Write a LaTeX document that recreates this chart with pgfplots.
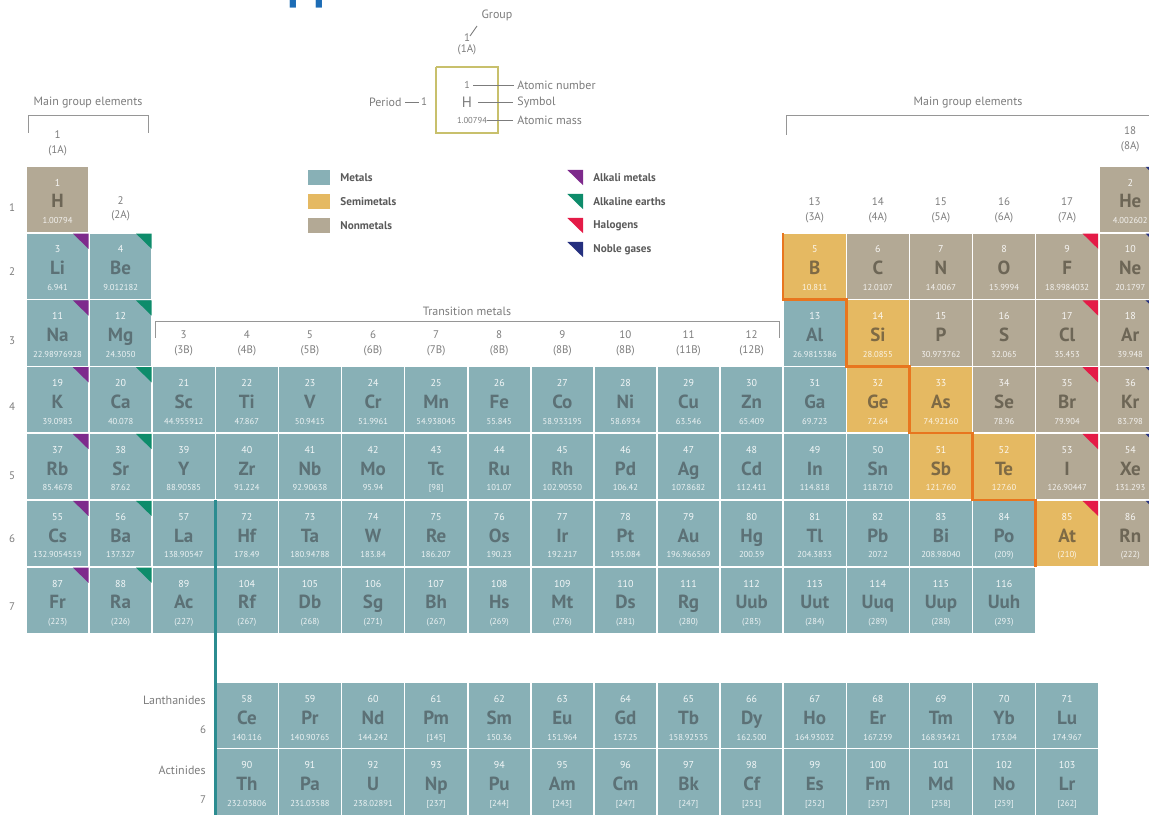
\documentclass[border=0pt]{standalone}
\usepackage{pgfplots}
\usepackage{pgfplotstable}
\pgfplotsset{compat=1.18}
\usepackage{fontspec}
\setmainfont{PT Sans}

\definecolor{metal}{HTML}{88B0B6}
\definecolor{semi}{HTML}{E5B962}
\definecolor{nonm}{HTML}{B3A995}
\definecolor{symm}{HTML}{5C7176}
\definecolor{syms}{HTML}{7E6A45}
\definecolor{symn}{HTML}{6D6656}
\definecolor{alk}{HTML}{7E2A8C}
\definecolor{aea}{HTML}{0E8C6B}
\definecolor{hal}{HTML}{E41B47}
\definecolor{nob}{HTML}{25307F}
\definecolor{bord}{HTML}{E8761F}
\definecolor{tealln}{HTML}{2B8C90}
\definecolor{labg}{HTML}{7C7C7C}
\definecolor{legt}{HTML}{5A5A5A}
\definecolor{keyb}{HTML}{C8C06C}
\definecolor{titleblue}{HTML}{1C6CB5}

% 1 px of the reference = 0.5pt; cell 63.1 x 66.8 px
\pgfdeclareplotmark{cell}{\pgfpathrectangle{\pgfqpoint{-15.775pt}{-16.7pt}}{\pgfqpoint{31.55pt}{33.4pt}}\pgfusepathqfillstroke}
\pgfdeclareplotmark{corner}{\pgfpathmoveto{\pgfqpoint{0pt}{0pt}}\pgfpathlineto{\pgfqpoint{-7.8pt}{0pt}}\pgfpathlineto{\pgfqpoint{0pt}{-7.6pt}}\pgfpathclose\pgfusepathqfill}
\pgfdeclareplotmark{key}{\pgfpathrectangle{\pgfqpoint{-5.5pt}{-3.75pt}}{\pgfqpoint{11pt}{7.5pt}}\pgfusepathqfill}

% Z symbol mass column row kind (m metal, s semimetal, n nonmetal) kn = 1/2/3
\pgfplotstableread{
Z S M c r k kn
1 H 1.00794 1 1 n 3
2 He 4.002602 18 1 n 3
3 Li 6.941 1 2 m 1
4 Be 9.012182 2 2 m 1
5 B 10.811 13 2 s 2
6 C 12.0107 14 2 n 3
7 N 14.0067 15 2 n 3
8 O 15.9994 16 2 n 3
9 F 18.9984032 17 2 n 3
10 Ne 20.1797 18 2 n 3
11 Na 22.98976928 1 3 m 1
12 Mg 24.3050 2 3 m 1
13 Al 26.9815386 13 3 m 1
14 Si 28.0855 14 3 s 2
15 P 30.973762 15 3 n 3
16 S 32.065 16 3 n 3
17 Cl 35.453 17 3 n 3
18 Ar 39.948 18 3 n 3
19 K 39.0983 1 4 m 1
20 Ca 40.078 2 4 m 1
21 Sc 44.955912 3 4 m 1
22 Ti 47.867 4 4 m 1
23 V 50.9415 5 4 m 1
24 Cr 51.9961 6 4 m 1
25 Mn 54.938045 7 4 m 1
26 Fe 55.845 8 4 m 1
27 Co 58.933195 9 4 m 1
28 Ni 58.6934 10 4 m 1
29 Cu 63.546 11 4 m 1
30 Zn 65.409 12 4 m 1
31 Ga 69.723 13 4 m 1
32 Ge 72.64 14 4 s 2
33 As 74.92160 15 4 s 2
34 Se 78.96 16 4 n 3
35 Br 79.904 17 4 n 3
36 Kr 83.798 18 4 n 3
37 Rb 85.4678 1 5 m 1
38 Sr 87.62 2 5 m 1
39 Y 88.90585 3 5 m 1
40 Zr 91.224 4 5 m 1
41 Nb 92.90638 5 5 m 1
42 Mo 95.94 6 5 m 1
43 Tc {[98]} 7 5 m 1
44 Ru 101.07 8 5 m 1
45 Rh 102.90550 9 5 m 1
46 Pd 106.42 10 5 m 1
47 Ag 107.8682 11 5 m 1
48 Cd 112.411 12 5 m 1
49 In 114.818 13 5 m 1
50 Sn 118.710 14 5 m 1
51 Sb 121.760 15 5 s 2
52 Te 127.60 16 5 s 2
53 I 126.90447 17 5 n 3
54 Xe 131.293 18 5 n 3
55 Cs 132.9054519 1 6 m 1
56 Ba 137.327 2 6 m 1
57 La 138.90547 3 6 m 1
72 Hf 178.49 4 6 m 1
73 Ta 180.94788 5 6 m 1
74 W 183.84 6 6 m 1
75 Re 186.207 7 6 m 1
76 Os 190.23 8 6 m 1
77 Ir 192.217 9 6 m 1
78 Pt 195.084 10 6 m 1
79 Au 196.966569 11 6 m 1
80 Hg 200.59 12 6 m 1
81 Tl 204.3833 13 6 m 1
82 Pb 207.2 14 6 m 1
83 Bi 208.98040 15 6 m 1
84 Po (209) 16 6 m 1
85 At (210) 17 6 s 2
86 Rn (222) 18 6 n 3
87 Fr (223) 1 7 m 1
88 Ra (226) 2 7 m 1
89 Ac (227) 3 7 m 1
104 Rf (267) 4 7 m 1
105 Db (268) 5 7 m 1
106 Sg (271) 6 7 m 1
107 Bh (267) 7 7 m 1
108 Hs (269) 8 7 m 1
109 Mt (276) 9 7 m 1
110 Ds (281) 10 7 m 1
111 Rg (280) 11 7 m 1
112 Uub (285) 12 7 m 1
113 Uut (284) 13 7 m 1
114 Uuq (289) 14 7 m 1
115 Uup (288) 15 7 m 1
116 Uuh (293) 16 7 m 1
58 Ce 140.116 4 8.733 m 1
59 Pr 140.90765 5 8.733 m 1
60 Nd 144.242 6 8.733 m 1
61 Pm {[145]} 7 8.733 m 1
62 Sm 150.36 8 8.733 m 1
63 Eu 151.964 9 8.733 m 1
64 Gd 157.25 10 8.733 m 1
65 Tb 158.92535 11 8.733 m 1
66 Dy 162.500 12 8.733 m 1
67 Ho 164.93032 13 8.733 m 1
68 Er 167.259 14 8.733 m 1
69 Tm 168.93421 15 8.733 m 1
70 Yb 173.04 16 8.733 m 1
71 Lu 174.967 17 8.733 m 1
90 Th 232.03806 4 9.722 m 1
91 Pa 231.03588 5 9.722 m 1
92 U 238.02891 6 9.722 m 1
93 Np {[237]} 7 9.722 m 1
94 Pu {[244]} 8 9.722 m 1
95 Am {[243]} 9 9.722 m 1
96 Cm {[247]} 10 9.722 m 1
97 Bk {[247]} 11 9.722 m 1
98 Cf {[251]} 12 9.722 m 1
99 Es {[252]} 13 9.722 m 1
100 Fm {[257]} 14 9.722 m 1
101 Md {[258]} 15 9.722 m 1
102 No {[259]} 16 9.722 m 1
103 Lr {[262]} 17 9.722 m 1
}\ptable

% group and period labels, pixel positions
\pgfplotstableread{
x y t
57.6 135 1
57.6 151 (1A)
120.6 201 2
120.6 216 (2A)
183.7 335 3
183.7 351 (3B)
246.8 335 4
246.8 351 (4B)
309.9 335 5
309.9 351 (5B)
373.0 335 6
373.0 351 (6B)
436.1 335 7
436.1 351 (7B)
499.2 335 8
499.2 351 (8B)
562.3 335 9
562.3 351 (8B)
625.4 335 10
625.4 351 (8B)
688.5 335 11
688.5 351 (11B)
751.6 335 12
751.6 351 (12B)
814.7 202 13
814.7 218 (3A)
877.8 202 14
877.8 218 (4A)
940.9 202 15
940.9 218 (5A)
1004.0 202 16
1004.0 218 (6A)
1067.1 202 17
1067.1 218 (7A)
1130.2 131 18
1130.2 147 (8A)
12 208 1
12 272 2
12 341 3
12 407 4
12 476 5
12 539 6
12 607 7
203 730 6
203 800 7
}\glab

\pgfplotsset{
  table/cellpos/.style={x expr=26+(\thisrow{c}-0.5)*63.1, y expr=166+(\thisrow{r}-0.5)*66.8},
  symtext/.style={only marks, mark=none, point meta=explicit symbolic, nodes near coords,
    nodes near coords style={anchor=base, yshift=-4.3pt, inner sep=0pt,
      font=\fontsize{9.5}{10}\selectfont\bfseries, text=#1}},
}

\begin{document}
\begin{tikzpicture}
\begin{axis}[
  width=574.5pt, height=407pt, scale only axis,
  xmin=0, xmax=1149, ymin=0, ymax=814, y dir=reverse,
  hide axis, clip=false, set layers,
]
% cells
\addplot[scatter, only marks, scatter src=explicit symbolic,
  scatter/classes={
    m={mark=cell, fill=metal, draw=white, line width=0.8pt},
    s={mark=cell, fill=semi, draw=white, line width=0.8pt},
    n={mark=cell, fill=nonm, draw=white, line width=0.8pt}}]
  table[cellpos, meta=k]{\ptable};

% corner triangles
\addplot[only marks, mark=corner, color=alk]
  table[x expr=26+\thisrow{c}*63.1-0.6, y expr=166+(\thisrow{r}-1)*66.8+0.8, row sep=\\]
  {c r\\1 2\\1 3\\1 4\\1 5\\1 6\\1 7\\};
\addplot[only marks, mark=corner, color=aea]
  table[x expr=26+\thisrow{c}*63.1-0.6, y expr=166+(\thisrow{r}-1)*66.8+0.8, row sep=\\]
  {c r\\2 2\\2 3\\2 4\\2 5\\2 6\\2 7\\};
\addplot[only marks, mark=corner, color=hal]
  table[x expr=26+\thisrow{c}*63.1-0.6, y expr=166+(\thisrow{r}-1)*66.8+0.8, row sep=\\]
  {c r\\17 2\\17 3\\17 4\\17 5\\17 6\\};
\addplot[only marks, mark=corner, color=nob]
  table[x expr=26+\thisrow{c}*63.1-0.6, y expr=166+(\thisrow{r}-1)*66.8+0.8, row sep=\\]
  {c r\\18 1\\18 2\\18 3\\18 4\\18 5\\18 6\\};

% atomic numbers
\addplot[only marks, mark=none, point meta=explicit symbolic, nodes near coords,
  nodes near coords style={anchor=base, yshift=6.6pt, inner sep=0pt,
    font=\fontsize{5}{5}\selectfont, text=white, text opacity=0.9}]
  table[cellpos, meta=Z]{\ptable};
% symbols, coloured by kind
\addplot[symtext=symm, restrict expr to domain={\thisrow{kn}}{0.5:1.5}] table[cellpos, meta=S]{\ptable};
\addplot[symtext=syms, restrict expr to domain={\thisrow{kn}}{1.5:2.5}] table[cellpos, meta=S]{\ptable};
\addplot[symtext=symn, restrict expr to domain={\thisrow{kn}}{2.5:3.5}] table[cellpos, meta=S]{\ptable};
% atomic masses
\addplot[only marks, mark=none, point meta=explicit symbolic, nodes near coords,
  nodes near coords style={anchor=base, yshift=-12.2pt, inner sep=0pt,
    font=\fontsize{4.3}{4.3}\selectfont, text=white, text opacity=0.85}]
  table[cellpos, meta=M]{\ptable};

% group / period labels
\addplot[only marks, mark=none, point meta=explicit symbolic, nodes near coords,
  nodes near coords style={anchor=center, inner sep=0pt,
    font=\fontsize{5.5}{5.5}\selectfont, text=labg}]
  table[x=x, y=y, meta=t]{\glab};

% metal / nonmetal border and lanthanide link, above the cells
\addplot[on layer=axis foreground, color=bord, line width=1.2pt] coordinates {
  (783.2,232.8) (783.2,299.6) (846.3,299.6) (846.3,366.4) (909.4,366.4)
  (909.4,433.2) (972.5,433.2) (972.5,500) (1035.6,500) (1035.6,566.8)};
\addplot[on layer=axis foreground, color=tealln, line width=1.3pt] coordinates {(215.3,500) (215.3,816)};

% brackets
\addplot[color=labg!80, line width=0.5pt] coordinates {(28,133) (28,116) (148,116) (148,133)};
\addplot[color=labg!80, line width=0.5pt] coordinates {(786,135) (786,116) (1160,116)};
\addplot[color=labg!80, line width=0.5pt] coordinates {(155,338) (155,322) (779,322) (779,338)};
\node[font=\fontsize{6}{6}\selectfont, text=labg] at (axis cs:88,103) {Main group elements};
\node[font=\fontsize{6}{6}\selectfont, text=labg] at (axis cs:968,103) {Main group elements};
\node[font=\fontsize{6}{6}\selectfont, text=labg] at (axis cs:467,311) {Transition metals};
\node[font=\fontsize{6}{6}\selectfont, text=labg, anchor=east, inner sep=0pt] at (axis cs:206,700) {Lanthanides};
\node[font=\fontsize{6}{6}\selectfont, text=labg, anchor=east, inner sep=0pt] at (axis cs:206,770) {Actinides};

% key box
\addplot[color=keyb, line width=0.7pt] coordinates {(436,67) (498,67) (498,133) (436,133) (436,67)};
\addplot[color=labg, line width=0.45pt] coordinates {(473,85) (514,85)};
\addplot[color=labg, line width=0.45pt] coordinates {(478,102) (513,102)};
\addplot[color=labg, line width=0.45pt] coordinates {(487,120) (513,120)};
\addplot[color=labg, line width=0.45pt] coordinates {(405,102) (419,102)};
\addplot[color=labg, line width=0.45pt] coordinates {(470,36) (477,26)};
\node[font=\fontsize{5}{5}\selectfont, text=labg] at (axis cs:467,85) {1};
\node[font=\fontsize{7.5}{7.5}\selectfont, text=labg] at (axis cs:467,102) {H};
\node[font=\fontsize{4.3}{4.3}\selectfont, text=labg] at (axis cs:472,120) {1.00794};
\node[font=\fontsize{6}{6}\selectfont, text=labg, anchor=west, inner sep=0pt] at (axis cs:517,85) {Atomic number};
\node[font=\fontsize{6}{6}\selectfont, text=labg, anchor=west, inner sep=0pt] at (axis cs:517,102) {Symbol};
\node[font=\fontsize{6}{6}\selectfont, text=labg, anchor=west, inner sep=0pt] at (axis cs:517,120) {Atomic mass};
\node[font=\fontsize{6}{6}\selectfont, text=labg, anchor=east, inner sep=0pt] at (axis cs:402,102) {Period};
\node[font=\fontsize{5.5}{5.5}\selectfont, text=labg] at (axis cs:424,102) {1};
\node[font=\fontsize{6}{6}\selectfont, text=labg] at (axis cs:497,15) {Group};
\node[font=\fontsize{5.5}{5.5}\selectfont, text=labg] at (axis cs:467,38) {1};
\node[font=\fontsize{5.5}{5.5}\selectfont, text=labg] at (axis cs:467,50) {(1A)};

% legend
\addplot[only marks, mark=key, color=metal] coordinates {(319,177.5)};
\addplot[only marks, mark=key, color=semi] coordinates {(319,201.5)};
\addplot[only marks, mark=key, color=nonm] coordinates {(319,225.5)};
\addplot[only marks, mark=corner, color=alk] coordinates {(583,170)};
\addplot[only marks, mark=corner, color=aea] coordinates {(583,194)};
\addplot[only marks, mark=corner, color=hal] coordinates {(583,218)};
\addplot[only marks, mark=corner, color=nob] coordinates {(583,242)};
\node[font=\fontsize{5.6}{5.6}\selectfont\bfseries, text=legt, anchor=west, inner sep=0pt] at (axis cs:340,178) {Metals};
\node[font=\fontsize{5.6}{5.6}\selectfont\bfseries, text=legt, anchor=west, inner sep=0pt] at (axis cs:340,202) {Semimetals};
\node[font=\fontsize{5.6}{5.6}\selectfont\bfseries, text=legt, anchor=west, inner sep=0pt] at (axis cs:340,226) {Nonmetals};
\node[font=\fontsize{5.6}{5.6}\selectfont\bfseries, text=legt, anchor=west, inner sep=0pt] at (axis cs:593,178) {Alkali metals};
\node[font=\fontsize{5.6}{5.6}\selectfont\bfseries, text=legt, anchor=west, inner sep=0pt] at (axis cs:593,202) {Alkaline earths};
\node[font=\fontsize{5.6}{5.6}\selectfont\bfseries, text=legt, anchor=west, inner sep=0pt] at (axis cs:593,226) {Halogens};
\node[font=\fontsize{5.6}{5.6}\selectfont\bfseries, text=legt, anchor=west, inner sep=0pt] at (axis cs:593,250) {Noble gases};

% title, cut off by the top edge
\node[font=\fontsize{24}{24}\selectfont\bfseries, text=titleblue, anchor=base west, inner sep=0pt] at (axis cs:258,-1) {Appendix};
\end{axis}
\pgfresetboundingbox
\path[use as bounding box] (current axis.south west) rectangle (current axis.north east);
\end{tikzpicture}
\end{document}
